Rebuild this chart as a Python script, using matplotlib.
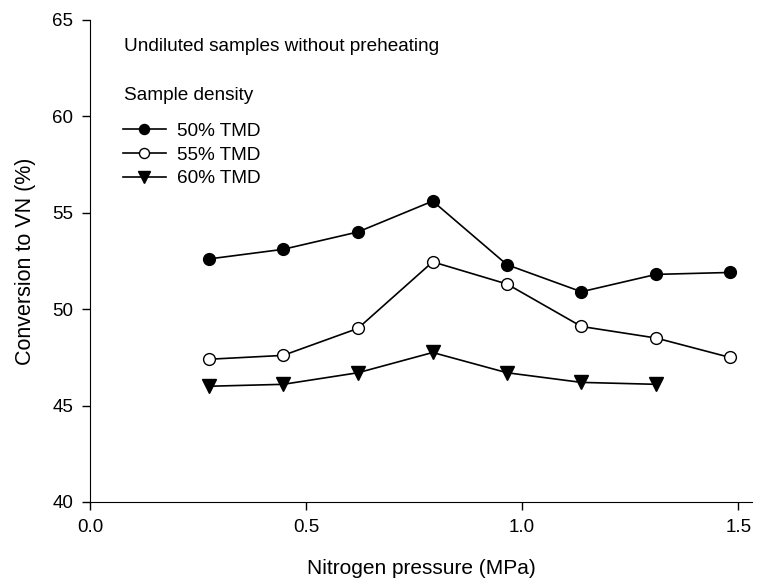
import matplotlib
matplotlib.use("Agg")
import matplotlib.pyplot as plt

plt.rcParams['font.family'] = ['Liberation Sans', 'DejaVu Sans']

pressure = [0.275, 0.447, 0.620, 0.793, 0.965, 1.137, 1.310, 1.480]
tmd50 = [52.6, 53.1, 54.0, 55.6, 52.3, 50.9, 51.8, 51.9]
tmd55 = [47.4, 47.6, 49.0, 52.45, 51.3, 49.1, 48.5, 47.5]
tmd60 = [46.0, 46.1, 46.7, 47.75, 46.7, 46.2, 46.1]

xticks = [0.0, 0.5, 1.0, 1.5]
yticks = [40, 45, 50, 55, 60, 65]

fig = plt.figure(figsize=(7.69, 5.83), dpi=100)
ax = fig.add_axes([0.117, 0.139, 0.861, 0.827])

ms = 8.5
ax.plot(pressure, tmd50, color='black', lw=1.2, marker='o', ms=ms,
        mfc='black', mec='black', label='50% TMD', clip_on=False)
ax.plot(pressure, tmd55, color='black', lw=1.2, marker='o', ms=ms,
        mfc='white', mec='black', mew=1.0, label='55% TMD', clip_on=False)
ax.plot(pressure[:len(tmd60)], tmd60, color='black', lw=1.2, marker='v', ms=ms + 1,
        mfc='black', mec='black', label='60% TMD', clip_on=False)

ax.set_xlim(0, 1.532)
ax.set_ylim(40, 65)
ax.set_xticks(xticks)
ax.set_xticklabels([f"{t:.1f}" for t in xticks])
ax.set_yticks(yticks)
ax.spines['top'].set_visible(False)
ax.spines['right'].set_visible(False)
ax.tick_params(direction='out', length=6, width=1, labelsize=13.5, pad=6)
ax.set_xlabel('Nitrogen pressure (MPa)', fontsize=15, labelpad=17)
ax.set_ylabel('Conversion to VN (%)', fontsize=15.5, labelpad=12)

ax.text(0.051, 0.944, 'Undiluted samples without preheating', transform=ax.transAxes,
        fontsize=13.7, va='center', ha='left')
ax.text(0.051, 0.843, 'Sample density', transform=ax.transAxes,
        fontsize=13.7, va='center', ha='left')

leg = ax.legend(loc='upper left', bbox_to_anchor=(0.05, 0.787), frameon=False,
                fontsize=13.7, handlelength=2.25, handletextpad=0.6,
                labelspacing=0.34, borderaxespad=0, borderpad=0, markerscale=0.85)

fig.savefig('out.png', dpi=100)
